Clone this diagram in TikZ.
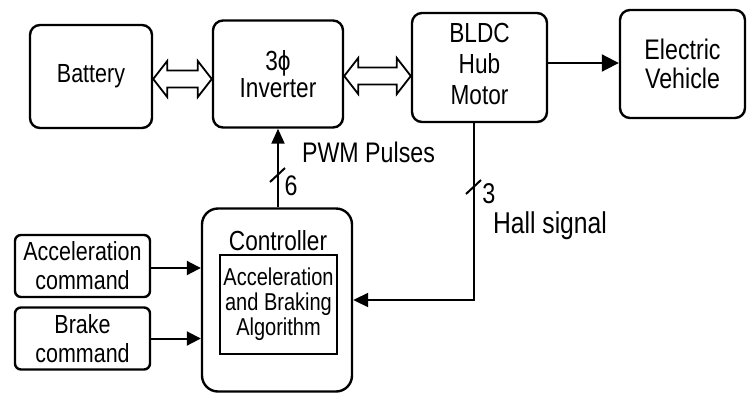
\documentclass[tikz,border=0pt]{standalone}
\usepackage{fontspec}
\setmainfont{Liberation Sans}[FakeStretch=0.82]
\usetikzlibrary{arrows.meta,calc}
\newcommand\hollowdbl[2]{%
  \draw[line width=1.8pt,fill=white,line join=miter]
    (#1) -- ($(#1)+(14,-18)$) -- ($(#1)+(14,-8.5)$) -- ($(#2)+(-14,-8.5)$)
    -- ($(#2)+(-14,-18)$) -- (#2) -- ($(#2)+(-14,18)$) -- ($(#2)+(-14,8.5)$)
    -- ($(#1)+(14,8.5)$) -- ($(#1)+(14,18)$) -- cycle;}
\begin{document}
\begin{tikzpicture}[x=1pt,y=-1pt,
  box/.style={draw,line width=2.4pt,rounded corners=10pt,align=center,inner sep=0pt},
  smallbox/.style={box,rounded corners=6pt,minimum width=135pt,minimum height=62pt,
    font=\fontsize{26.2}{29}\selectfont},
  conn/.style={line width=2pt},
  lbl/.style={inner sep=0pt,anchor=base}]
\useasboundingbox (0,0) rectangle (751,394);
\fill[white] (0,0) rectangle (751,394);
% main boxes
\node[box,minimum width=122pt,minimum height=103pt,font=\fontsize{26.2}{29}\selectfont] (bat) at (91,76.5) {Battery};
\node[box,minimum width=130pt,minimum height=107pt,font=\fontsize{27.6}{27}\selectfont] (inv) at (278,74) {3ϕ\\Inverter};
\node[box,minimum width=135pt,minimum height=109pt] (bldc) at (479.5,67.5) {};
\node[align=center,inner sep=0pt,font=\fontsize{27.6}{31}\selectfont] (bldct) at (479.5,63.5) {BLDC\\Hub\\Motor};
\node[box,minimum width=125pt,minimum height=108pt,font=\fontsize{28.3}{29}\selectfont] (ev) at (682.5,64) {Electric\\Vehicle};
% controller
\node[box,rounded corners=16pt,minimum width=150pt,minimum height=183pt] (ctrl) at (277,300) {};
\node[inner sep=0pt,font=\fontsize{27.6}{26}\selectfont] (ctrlt) at (278,241) {Controller};
\node[draw,line width=2.2pt,minimum width=117pt,minimum height=99pt,align=center,inner sep=0pt,
  font=\fontsize{24.4}{25}\selectfont] (alg) at (278.5,304.5) {Acceleration\\and Braking\\Algorithm};
% inputs
\node[smallbox] (acc) at (82.5,266) {Acceleration\\command};
\node[smallbox] (brk) at (82.5,338.5) {Brake\\command};
% hollow double arrows
\coordinate (d1a) at (bat.east |- 0,79);
\coordinate (d1b) at (inv.west |- 0,79);
\hollowdbl{d1a}{d1b}
\coordinate (d2a) at (inv.east |- 0,76);
\coordinate (d2b) at (bldc.west |- 0,76);
\hollowdbl{d2a}{d2b}
% motor to vehicle
\draw[conn,-{Triangle[length=17pt,width=17pt]}] (bldc.east |- 0,63) -- (ev.west |- 0,63);
% PWM
\draw[conn,-{Triangle[length=15pt,width=13pt]}] (ctrl.north -| inv.south) -- (inv.south);
\coordinate (s6) at (278,175);
\draw[conn] ($(s6)+(-8,7)$) -- ($(s6)+(7,-7)$);
\node[lbl,font=\fontsize{28.3}{27}\selectfont] (pwm) at (368.5,162) {PWM Pulses};
\node[lbl,font=\fontsize{28.3}{27}\selectfont] (six) at (291,195) {6};
% Hall
\coordinate (hs) at ([xshift=-5.5pt]bldc.south);
\draw[conn,-{Triangle[length=15pt,width=14pt]}] (hs) |- (ctrl.east);
\coordinate (s3) at (474,187);
\draw[conn] ($(s3)+(-8,7)$) -- ($(s3)+(7,-7)$);
\node[lbl,font=\fontsize{28.6}{27}\selectfont] (three) at (489,203) {3};
\node[lbl,font=\fontsize{30.1}{28}\selectfont] (hall) at (550,233) {Hall signal};
% commands
\draw[conn,-{Triangle[length=14pt,width=14pt]}] ([yshift=-2pt]acc.east) -- ([yshift=-2pt]acc.east -| ctrl.west);
\draw[conn,-{Triangle[length=14pt,width=14pt]}] (brk.east) -- (brk.east -| ctrl.west);
\end{tikzpicture}
\end{document}
